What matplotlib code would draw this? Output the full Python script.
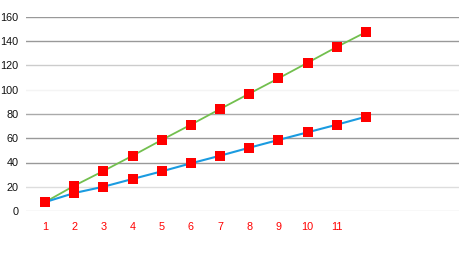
import matplotlib

matplotlib.use("Agg")
import matplotlib.pyplot as plt

plt.rcParams["font.family"] = ["Liberation Sans", "DejaVu Sans"]

# data
categories = [1, 2, 3, 4, 5, 6, 7, 8, 9, 10, 11, 12]
tick_labels = ["1", "2", "3", "4", "5", "6", "7", "8", "9", "10", "11", ""]
green_vals = [7.3, 20.8, 33.0, 45.6, 58.6, 71.2, 84.1, 96.8, 109.4, 122.3, 135.3, 147.6]
blue_vals = [7.3, 14.8, 20.0, 26.4, 32.7, 39.3, 45.6, 52.2, 58.6, 64.9, 71.2, 77.8]
y_ticks = [0, 20, 40, 60, 80, 100, 120, 140, 160]
grid_colors = ["#dddddd", "#dddddd", "#999999", "#999999", "#aaaaaa",
               "#f4f4f4", "#cccccc", "#999999", "#999999"]

fig = plt.figure(figsize=(4.6, 2.62), dpi=100)
ax = fig.add_axes([26 / 460, 51 / 262, 434 / 460, 194 / 262])

for yv, c in zip(y_ticks, grid_colors):
    ax.axhline(yv, color=c, linewidth=1.0, zorder=1)

ax.plot(categories, green_vals, color="#72bf4e", linewidth=1.3, zorder=2)
ax.plot(categories, blue_vals, color="#1a9be0", linewidth=1.5, zorder=2)
for vals in (green_vals, blue_vals):
    ax.plot(categories, vals, linestyle="none", marker="s", markersize=7.2,
            color="#ff0000", markeredgewidth=0, zorder=3, clip_on=False)

ax.set_xlim(0.349, 15.22)
ax.set_ylim(0, 160)
ax.set_yticks(y_ticks)
ax.set_yticklabels([str(v) for v in y_ticks], fontsize=7.8, color="#111111")
ax.set_xticks(categories)
ax.set_xticklabels(tick_labels, fontsize=7.8, color="#ff0000")
ax.tick_params(axis="y", length=0, pad=5.5)
ax.tick_params(axis="x", length=0, pad=8)
for s in ax.spines.values():
    s.set_visible(False)

plt.savefig("out.png", dpi=100)
plt.close()
